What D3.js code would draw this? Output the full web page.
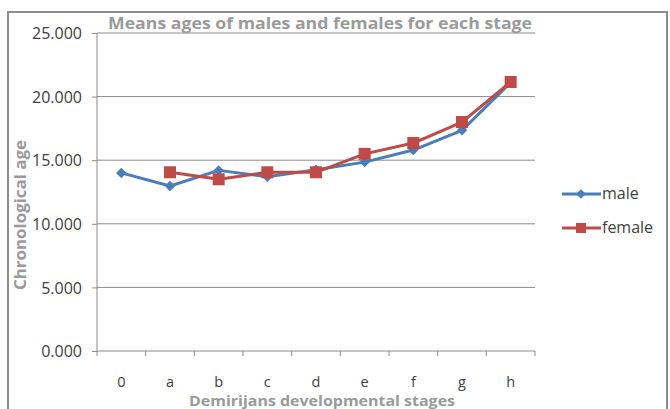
<!DOCTYPE html>
<html>
<head>
<meta charset="utf-8">
<script src="https://cdn.jsdelivr.net/npm/d3@7"></script>
<style>
  html, body { margin: 0; padding: 0; background: #fff; }
  svg { display: block; }
</style>
</head>
<body>
<svg id="chart" width="670" height="409"></svg>
<script>
// Demirjian developmental stages and mean chronological ages
const stages = ["0", "a", "b", "c", "d", "e", "f", "g", "h"];
const maleAges = [14.0, 12.97, 14.2, 13.7, 14.25, 14.85, 15.8, 17.35, 21.1];
const femaleAges = [null, 14.05, 13.5, 14.05, 14.05, 15.5, 16.35, 18.0, 21.15];
const yTicks = [0, 5, 10, 15, 20, 25];

const svg = d3.select("#chart");
const m = { left: 97, right: 535, top: 33, bottom: 351 };
const font = "'Open Sans', 'Noto Sans', sans-serif";

// outer frame
svg.append("rect")
  .attr("x", 8).attr("y", 12).attr("width", 659).attr("height", 420)
  .attr("fill", "#fff").attr("stroke", "#8c8c8c").attr("stroke-width", 2);

const x = d3.scaleBand().domain(stages).range([m.left, m.right]);
const y = d3.scaleLinear().domain([0, 25]).range([m.bottom, m.top]);

// horizontal gridlines
svg.append("g").selectAll("line").data(yTicks.slice(1)).join("line")
  .attr("x1", m.left).attr("x2", m.right)
  .attr("y1", d => y(d)).attr("y2", d => y(d))
  .attr("stroke", "#8a8a8a").attr("stroke-width", 1);

// y axis
const yAxis = svg.append("g")
  .attr("transform", `translate(${m.left},0)`)
  .call(d3.axisLeft(y).tickValues(yTicks).tickSize(5).tickPadding(10)
    .tickFormat(d3.format(".3f")));
yAxis.select(".domain").attr("stroke", "#8a8a8a").attr("d", `M0,${m.top}V${m.bottom}`);
yAxis.selectAll(".tick line").attr("stroke", "#8a8a8a");
yAxis.selectAll("text").attr("font-family", font).attr("font-size", 16)
  .attr("fill", "#404040").attr("dy", "0.36em");

// x axis with ticks between categories
const xAxis = svg.append("g").attr("transform", `translate(0,${m.bottom})`);
xAxis.append("line").attr("x1", m.left).attr("x2", m.right)
  .attr("stroke", "#8a8a8a");
const bounds = stages.map(s => x(s)).concat([m.right]);
xAxis.selectAll("line.tk").data(bounds).join("line").attr("class", "tk")
  .attr("x1", d => d).attr("x2", d => d).attr("y1", 0).attr("y2", 5)
  .attr("stroke", "#8a8a8a");
xAxis.selectAll("text").data(stages).join("text")
  .attr("x", d => x(d) + x.bandwidth() / 2).attr("y", 35.5)
  .attr("text-anchor", "middle")
  .attr("font-family", font).attr("font-size", 14.5).attr("fill", "#404040")
  .text(d => d);

const cx = d => x(d) + x.bandwidth() / 2;

// series lines
const line = d3.line().defined(d => d.v != null).x(d => cx(d.s)).y(d => y(d.v));
const maleData = stages.map((s, i) => ({ s, v: maleAges[i] }));
const femaleData = stages.map((s, i) => ({ s, v: femaleAges[i] }));

const blue = "#4a7ebb", red = "#be4b48";

svg.append("path").datum(maleData).attr("d", line)
  .attr("fill", "none").attr("stroke", blue).attr("stroke-width", 3)
  .attr("stroke-linejoin", "round");
svg.append("g").selectAll("path").data(maleData.filter(d => d.v != null)).join("path")
  .attr("d", d3.symbol(d3.symbolDiamond2, 70))
  .attr("transform", d => `translate(${cx(d.s)},${y(d.v)})`)
  .attr("fill", blue);

svg.append("path").datum(femaleData).attr("d", line)
  .attr("fill", "none").attr("stroke", red).attr("stroke-width", 3)
  .attr("stroke-linejoin", "round");
svg.append("g").selectAll("rect").data(femaleData.filter(d => d.v != null)).join("rect")
  .attr("x", d => cx(d.s) - 6).attr("y", d => y(d.v) - 6)
  .attr("width", 12).attr("height", 12)
  .attr("fill", red);

// title
svg.append("text")
  .attr("x", 320).attr("y", 29).attr("text-anchor", "middle")
  .attr("font-family", font).attr("font-size", 16.5).attr("font-weight", "bold")
  .attr("fill", "#9a9a9a")
  .attr("textLength", 424).attr("lengthAdjust", "spacingAndGlyphs")
  .text("Means ages of males and females for each stage");

// axis titles
svg.append("text")
  .attr("transform", "translate(26,215) rotate(-90)")
  .attr("text-anchor", "middle")
  .attr("font-family", font).attr("font-size", 16).attr("font-weight", "bold")
  .attr("fill", "#9a9a9a")
  .attr("textLength", 150).attr("lengthAdjust", "spacingAndGlyphs")
  .text("Chronological age");

svg.append("text")
  .attr("x", 322).attr("y", 405.5).attr("text-anchor", "middle")
  .attr("font-family", font).attr("font-size", 15).attr("font-weight", "bold")
  .attr("fill", "#9a9a9a")
  .attr("textLength", 266).attr("lengthAdjust", "spacingAndGlyphs")
  .text("Demirijans developmental stages");

// legend
const legend = svg.append("g");
const items = [
  { name: "male", color: blue, y: 194, shape: "diamond" },
  { name: "female", color: red, y: 228, shape: "square" }
];
items.forEach(it => {
  legend.append("line").attr("x1", 562).attr("x2", 601)
    .attr("y1", it.y).attr("y2", it.y)
    .attr("stroke", it.color).attr("stroke-width", 3);
  if (it.shape === "diamond") {
    legend.append("path").attr("d", d3.symbol(d3.symbolDiamond2, 60))
      .attr("transform", `translate(581,${it.y})`).attr("fill", it.color);
  } else {
    legend.append("rect").attr("x", 576).attr("y", it.y - 5)
      .attr("width", 10).attr("height", 10).attr("fill", it.color);
  }
  legend.append("text").attr("x", 602).attr("y", it.y + 5)
    .attr("font-family", font).attr("font-size", 16).attr("fill", "#404040")
    .text(it.name);
});
</script>
</body>
</html>
